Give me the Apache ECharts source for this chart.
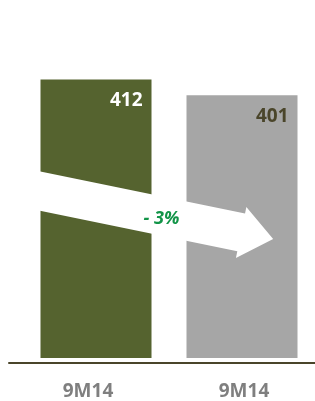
<!DOCTYPE html>
<html><head><meta charset="utf-8">
<script src="https://cdn.jsdelivr.net/npm/echarts@6/dist/echarts.min.js"></script>
<style>html,body{margin:0;padding:0;background:#fff}#c{width:315px;height:401px}</style>
</head><body><div id="c"></div>
<script>
var categories = ['9M14', '9M14'];
var values = [412, 401];
var changeLabel = '- 3%';
var barColors = ['#55632F', '#A6A6A6'];
var valueLabelColors = ['#FFFFFF', '#4A452A'];

var FONT = '"Open Sans", Lato, sans-serif';
var chart = echarts.init(document.getElementById('c'), null, {renderer: 'canvas'});
var option = {
  animation: false,
  grid: [
    {left: 23, right: 0, top: 39.5, bottom: 39},
    {left: 9, right: 0, top: 39.5, bottom: 38}
  ],
  xAxis: [
    {type: 'category', gridIndex: 0,
     data: categories.map(function (c, i) {
       return {value: c, textStyle: {padding: i === 0 ? [0, 16, 0, 0] : [0, 0, 0, 4]}};
     }),
     axisLine: {show: false}, axisTick: {show: false},
     axisLabel: {color: '#7F7F7F', fontSize: 19, fontWeight: 'bold', fontFamily: FONT, margin: 24, interval: 0}},
    {type: 'value', gridIndex: 1, min: 0, max: 1,
     axisLine: {show: true, onZero: false, lineStyle: {color: '#4A452A', width: 2}},
     axisTick: {show: false}, axisLabel: {show: false}, splitLine: {show: false}}
  ],
  yAxis: [
    {type: 'value', gridIndex: 0, min: 217, max: 440, show: false},
    {type: 'value', gridIndex: 1, min: 0, max: 1, show: false}
  ],
  series: [{
    type: 'bar', xAxisIndex: 0, yAxisIndex: 0, barWidth: 111, z: 1,
    data: values.map(function (v, i) {
      return {value: v, itemStyle: {color: barColors[i]}, label: {color: valueLabelColors[i]}};
    }),
    label: {show: true, position: 'insideTopRight', distance: 0, offset: [-9, 12],
            fontSize: 19, fontWeight: 'bold', fontFamily: FONT}
  }]
};
chart.setOption(option);

// Arrow annotation anchored to the first bar
var p0 = chart.convertToPixel({xAxisIndex: 0, yAxisIndex: 0}, [0, values[0]]);
var ax = p0[0] - 55.5, ay = p0[1] + 92;
var th = Math.atan(0.205), cs = Math.cos(th), sn = Math.sin(th);
var local = [[-20, 0], [208.8, 0], [208.8, -6.5], [241.5, 19.5], [208.8, 45.5], [208.8, 38.5], [-20, 38.5]];
var pts = local.map(function (p) {
  return [ax + p[0] * cs - p[1] * sn, ay + p[0] * sn + p[1] * cs];
});
chart.setOption({
  graphic: [
    {type: 'polygon', shape: {points: pts}, style: {fill: '#FFFFFF'}, z: 10},
    {type: 'text', x: ax + 121, y: ay + 47, z: 11,
     style: {text: changeLabel, fill: '#119447', font: 'italic bold 18px ' + FONT,
             align: 'center', verticalAlign: 'middle'}}
  ]
});
</script>
</body></html>
